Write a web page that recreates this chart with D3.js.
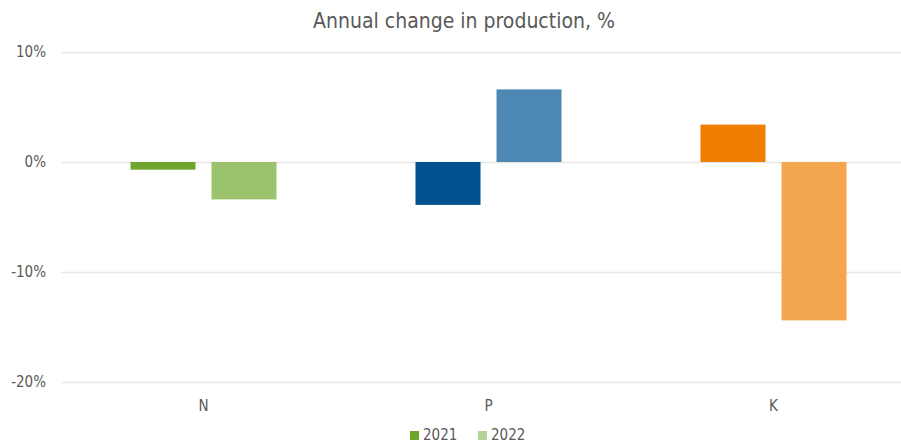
<!DOCTYPE html>
<html>
<head>
<meta charset="utf-8">
<script src="https://cdn.jsdelivr.net/npm/d3@7"></script>
<style>
  body { margin: 0; background: #fff; }
  svg { display: block; overflow: hidden; }
  text { font-family: 'DejaVu Sans Condensed', 'DejaVu Sans', sans-serif; fill: #595959; }
</style>
</head>
<body>
<div id="chart"></div>
<script>
const categories = ['N', 'P', 'K'];
const years = ['2021', '2022'];
const values2021 = [-0.7, -3.9, 3.4];
const values2022 = [-3.4, 6.6, -14.4];
const yTicks = [10, 0, -10, -20];
const colors2021 = ['#6ea52c', '#00528f', '#f07e00'];
const colors2022 = ['#9bc36e', '#4d88b4', '#f4a64f'];

const W = 901, H = 443;
const margin = { top: 52, right: -15, bottom: 61, left: 61 };

const svg = d3.select('#chart').append('svg')
  .attr('width', W)
  .attr('height', H);

const x = d3.scaleBand().domain(categories).range([margin.left, W - margin.right]);
// pair of bars inside each band: 65px bars, 16px gap
const xInner = d3.scaleBand().domain(years).range([0, 146]).paddingInner(16 / 81);
const y = d3.scaleLinear().domain([-20, 10]).range([H - margin.bottom, margin.top]);

// gridlines
svg.append('g')
  .selectAll('line')
  .data(yTicks)
  .join('line')
  .attr('x1', margin.left)
  .attr('x2', W)
  .attr('y1', d => Math.round(y(d)) + 0.5)
  .attr('y2', d => Math.round(y(d)) + 0.5)
  .attr('stroke', '#e6e6e6')
  .attr('stroke-width', 1.5);

// y labels
svg.append('g')
  .selectAll('text')
  .data(yTicks)
  .join('text')
  .attr('x', 46)
  .attr('y', d => y(d))
  .attr('dy', '0.35em')
  .attr('text-anchor', 'end')
  .attr('font-size', 15)
  .text(d => d + '%');

// bars
const rows = categories.map((c, i) => ({ cat: c, i: i, vals: [values2021[i], values2022[i]] }));
const groups = svg.append('g')
  .selectAll('g')
  .data(rows)
  .join('g')
  .attr('transform', d => `translate(${x(d.cat) + (x.bandwidth() - 146) / 2},0)`);

groups.selectAll('rect')
  .data(d => d.vals.map((v, j) => ({ v: v, year: years[j], i: d.i, j: j })))
  .join('rect')
  .attr('x', d => xInner(d.year))
  .attr('width', xInner.bandwidth())
  .attr('y', d => y(Math.max(0, d.v)))
  .attr('height', d => Math.abs(y(d.v) - y(0)))
  .attr('fill', d => d.j === 0 ? colors2021[d.i] : colors2022[d.i]);

// x labels
svg.append('g')
  .selectAll('text')
  .data(categories)
  .join('text')
  .attr('x', d => x(d) + x.bandwidth() / 2)
  .attr('y', 406)
  .attr('dy', '0.35em')
  .attr('text-anchor', 'middle')
  .attr('font-size', 15)
  .text(d => d);

// title
svg.append('text')
  .attr('x', 464)
  .attr('y', 21)
  .attr('dy', '0.35em')
  .attr('text-anchor', 'middle')
  .attr('font-size', 21)
  .text('Annual change in production, %');

// legend
const legendColors = [colors2021[0], '#b3d495'];
const legend = svg.append('g')
  .selectAll('g')
  .data(years)
  .join('g')
  .attr('transform', (d, i) => `translate(${410 + i * 68},0)`);
legend.append('rect')
  .attr('x', 0)
  .attr('y', 431)
  .attr('width', 9)
  .attr('height', 9)
  .attr('fill', (d, i) => legendColors[i]);
legend.append('text')
  .attr('x', 13)
  .attr('y', 440)
  .attr('font-size', 15)
  .text(d => d);
</script>
</body>
</html>
